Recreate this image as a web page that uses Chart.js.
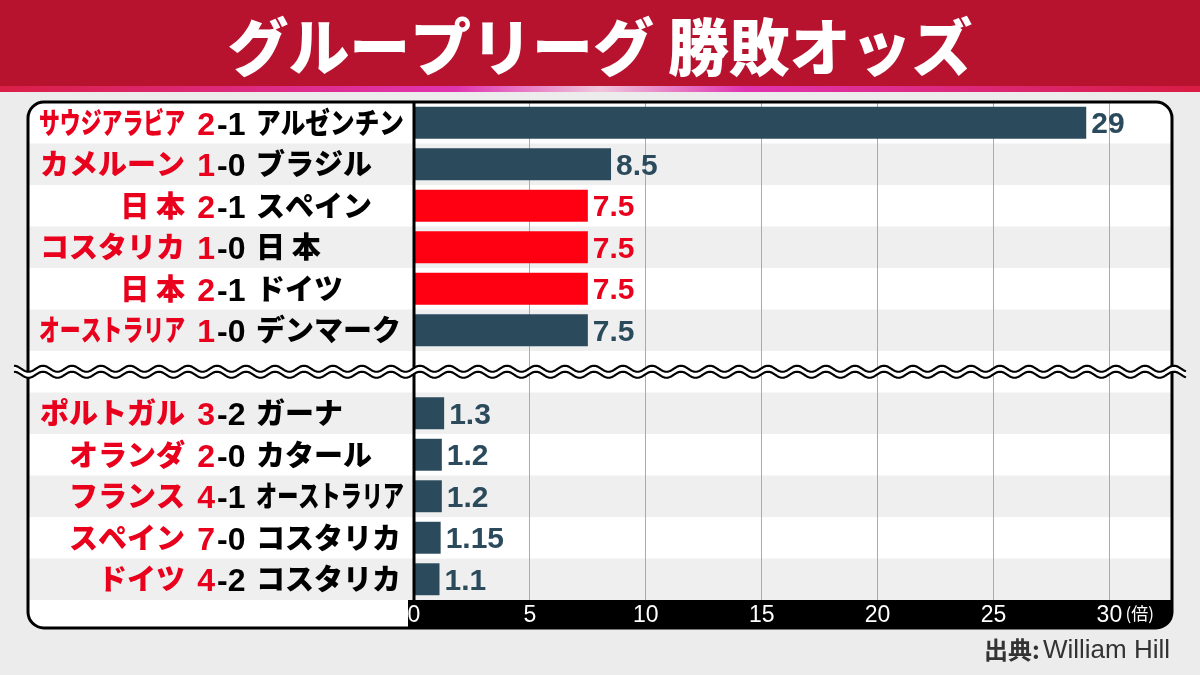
<!DOCTYPE html>
<html>
<head>
<meta charset="utf-8">
<script src="https://cdn.jsdelivr.net/npm/chart.js@4/dist/chart.umd.min.js"></script>
<style>
  html, body { margin: 0; padding: 0; background: #ececec; }
  #wrap { width: 1200px; height: 675px; position: relative; }
</style>
</head>
<body>
<div id="wrap"><canvas id="chart1"></canvas></div>
<script>
// 試合ごとのデータ（6番目は省略線の行）
const winners = ['サウジアラビア', 'カメルーン', '日 本', 'コスタリカ', '日 本', 'オーストラリア', '', 'ポルトガル', 'オランダ', 'フランス', 'スペイン', 'ドイツ'];
const winnerGoals = ['2', '1', '2', '1', '2', '1', '', '3', '2', '4', '7', '4'];
const loserGoals = ['1', '0', '1', '0', '1', '0', '', '2', '0', '1', '0', '2'];
const losers = ['アルゼンチン', 'ブラジル', 'スペイン', '日 本', 'ドイツ', 'デンマーク', '', 'ガーナ', 'カタール', 'オーストラリア', 'コスタリカ', 'コスタリカ'];
const odds = [29, 8.5, 7.5, 7.5, 7.5, 7.5, null, 1.3, 1.2, 1.2, 1.15, 1.1];
const xTicks = [0, 5, 10, 15, 20, 25, 30];
const breakRow = 6;

const title = 'グループリーグ 勝敗オッズ';
const unit = '(倍)';

const NAVY = '#2b4b5d';
const RED_BAR = '#ff0013';
const RED_TEXT = '#e8001c';
const JP = '"Noto Sans CJK JP"';

const labels = winners.map((w, i) => w ? w + ' ' + winnerGoals[i] + '-' + loserGoals[i] + ' ' + losers[i] : '');
const isJapan = winners.map((w, i) => w === '日 本' || losers[i] === '日 本');

const panel = { x: 28, y: 102, w: 1144, h: 526, r: 16 };

const decor = {
  id: 'decor',
  beforeDraw(chart) {
    const ctx = chart.ctx, area = chart.chartArea;
    const xs = chart.scales.x, ys = chart.scales.y;
    ctx.save();
    // 背景
    ctx.fillStyle = '#ececec';
    ctx.fillRect(0, 0, chart.width, chart.height);
    // ヘッダー
    ctx.fillStyle = '#b7132f';
    ctx.fillRect(0, 0, chart.width, 86);
    const g = ctx.createLinearGradient(0, 0, chart.width, 0);
    g.addColorStop(0, '#da1f47');
    g.addColorStop(0.38, '#e034b0');
    g.addColorStop(0.5, '#f0c6dc');
    g.addColorStop(0.62, '#e034b0');
    g.addColorStop(1, '#d81c42');
    ctx.fillStyle = g;
    ctx.fillRect(0, 86, chart.width, 6);
    ctx.fillStyle = '#ffffff';
    ctx.font = '900 62px ' + JP;
    ctx.textAlign = 'center';
    ctx.textBaseline = 'middle';
    ctx.fillText(title, 600, 47, 745);

    // パネル
    ctx.beginPath();
    ctx.roundRect(panel.x, panel.y, panel.w, panel.h, panel.r);
    ctx.fillStyle = '#ffffff';
    ctx.fill();
    ctx.save();
    ctx.clip();
    const rowH = (area.bottom - area.top) / labels.length;
    ctx.fillStyle = '#efefef';
    labels.forEach((l, i) => {
      if (i % 2 === 1) {
        const y = ys.getPixelForValue(i);
        ctx.fillRect(panel.x, y - rowH / 2, panel.w, rowH);
      }
    });
    ctx.restore();

    // 目盛りの黒帯
    const left = xs.getPixelForValue(0) - 6;
    ctx.beginPath();
    ctx.roundRect(left, area.bottom, panel.x + panel.w - left, panel.y + panel.h - area.bottom, [0, 0, panel.r, 0]);
    ctx.fillStyle = '#000000';
    ctx.fill();

    // 出典
    ctx.fillStyle = '#333333';
    ctx.textBaseline = 'middle';
    ctx.textAlign = 'right';
    ctx.font = '500 26px "Liberation Sans"';
    ctx.fillText('William Hill', 1170, 651);
    const w = ctx.measureText('William Hill').width;
    ctx.font = 'bold 24px ' + JP;
    ctx.fillText('出典:', 1170 - w - 3, 650);
    ctx.restore();
  },
  afterDatasetsDraw(chart) {
    const ctx = chart.ctx, area = chart.chartArea;
    const xs = chart.scales.x, ys = chart.scales.y;
    const meta = chart.getDatasetMeta(0);
    ctx.save();
    // 値ラベル
    ctx.font = 'bold 30px "Liberation Sans"';
    ctx.textAlign = 'left';
    ctx.textBaseline = 'middle';
    meta.data.forEach((bar, i) => {
      if (odds[i] === null) return;
      ctx.fillStyle = isJapan[i] ? RED_TEXT : NAVY;
      ctx.fillText(String(odds[i]), bar.x + 5, bar.y + 2);
    });

    // 試合ラベル
    labels.forEach((l, i) => {
      if (!l) return;
      const y = ys.getPixelForValue(i);
      ctx.textBaseline = 'middle';
      ctx.font = '900 29px ' + JP;
      ctx.fillStyle = RED_TEXT;
      ctx.textAlign = 'right';
      ctx.fillText(winners[i], 185, y, 146);
      ctx.font = 'bold 32px "Liberation Sans"';
      ctx.fillText(winnerGoals[i], 215, y + 3);
      ctx.fillStyle = '#000000';
      ctx.textAlign = 'left';
      ctx.fillText('-' + loserGoals[i], 217, y + 3);
      ctx.font = '900 29px ' + JP;
      ctx.fillText(losers[i], 256, y, 148);
    });

    // 0の軸線
    const x0 = xs.getPixelForValue(0);
    ctx.strokeStyle = '#000000';
    ctx.lineWidth = 3;
    ctx.beginPath();
    ctx.moveTo(x0, panel.y);
    ctx.lineTo(x0, area.bottom);
    ctx.stroke();

    // 単位
    ctx.fillStyle = '#ffffff';
    ctx.font = '17px ' + JP;
    ctx.textAlign = 'left';
    ctx.textBaseline = 'middle';
    ctx.fillText(unit, xs.getPixelForValue(30) + 16, area.bottom + 14);

    // パネルの枠
    ctx.beginPath();
    ctx.roundRect(panel.x, panel.y, panel.w, panel.h, panel.r);
    ctx.lineWidth = 3;
    ctx.stroke();

    // 省略の波線
    const yc = ys.getPixelForValue(breakRow);
    const wx0 = 14, wx1 = 1186, P = 29, A = 3, gap = 3;
    const wave = (x, off) => yc + off + A * Math.sin(2 * Math.PI * (x - wx0) / P - Math.PI / 2);
    ctx.beginPath();
    for (let x = wx0; x <= wx1; x += 1) ctx.lineTo(x, wave(x, -gap));
    for (let x = wx1; x >= wx0; x -= 1) ctx.lineTo(x, wave(x, gap));
    ctx.closePath();
    ctx.fillStyle = '#ffffff';
    ctx.fill();
    ctx.lineWidth = 2.2;
    [-gap, gap].forEach(off => {
      ctx.beginPath();
      for (let x = wx0; x <= wx1; x += 1) ctx.lineTo(x, wave(x, off));
      ctx.stroke();
    });
    ctx.restore();
  }
};

new Chart(document.getElementById('chart1'), {
  type: 'bar',
  data: {
    labels: labels,
    datasets: [{
      data: odds,
      backgroundColor: odds.map((v, i) => isJapan[i] ? RED_BAR : NAVY),
      barPercentage: 0.77,
      categoryPercentage: 1
    }]
  },
  options: {
    indexAxis: 'y',
    responsive: true,
    maintainAspectRatio: false,
    animation: false,
    layout: { padding: { left: 414, right: 28, top: 102, bottom: 47 } },
    plugins: { legend: { display: false }, tooltip: { enabled: false } },
    scales: {
      x: {
        type: 'linear',
        min: 0,
        max: 32.7,
        afterBuildTicks: s => { s.ticks = xTicks.map(v => ({ value: v })); },
        afterFit: s => { s.height = 28; },
        border: { display: false },
        grid: {
          drawTicks: false,
          lineWidth: 1,
          color: c => c.tick && c.tick.value === 0 ? 'rgba(0,0,0,0)' : '#aaaaaa'
        },
        ticks: {
          color: '#ffffff',
          font: { family: 'Liberation Sans', size: 23 },
          padding: 2,
          maxRotation: 0,
          autoSkip: false
        }
      },
      y: {
        type: 'category',
        display: false
      }
    }
  },
  plugins: [decor]
});
</script>
</body>
</html>
